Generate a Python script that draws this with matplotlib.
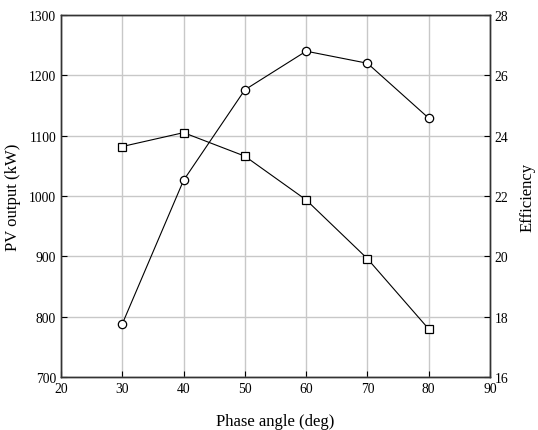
import matplotlib
matplotlib.use('Agg')
import matplotlib.pyplot as plt

plt.rcParams['font.family'] = ['Liberation Serif', 'DejaVu Serif']

# Data
phase_angle = [30, 40, 50, 60, 70, 80]
pv_output = [788, 1026, 1176, 1240, 1220, 1129]
efficiency = [23.64, 24.10, 23.32, 21.87, 19.92, 17.59]

x_ticks = [20, 30, 40, 50, 60, 70, 80, 90]
pv_ticks = [700, 800, 900, 1000, 1100, 1200, 1300]
eff_ticks = [16, 18, 20, 22, 24, 26, 28]

fig = plt.figure(figsize=(5.38, 4.31), dpi=100)
ax = fig.add_axes([0.1134, 0.1230, 0.7974, 0.8399])

ax.plot(phase_angle, pv_output, color='black', lw=0.8, marker='o', ms=6,
        mfc='white', mec='black', mew=0.9, zorder=3)
ax.set_xlim(20, 90)
ax.set_ylim(700, 1300)
ax.set_xticks(x_ticks)
ax.set_yticks(pv_ticks)
ax.grid(True, color='#c8c8c8', lw=1.0)
ax.set_axisbelow(True)
ax.tick_params(direction='in', length=4, labelsize=9.8, width=0.8)
ax.set_xlabel('Phase angle (deg)', fontsize=12, labelpad=13)
ax.set_ylabel('PV output (kW)', fontsize=12, labelpad=6)

ax2 = ax.twinx()
ax2.plot(phase_angle, efficiency, color='black', lw=0.8, marker='s', ms=6,
         mfc='white', mec='black', mew=0.9, zorder=3)
ax2.set_ylim(16, 28)
ax2.set_yticks(eff_ticks)
ax2.tick_params(direction='in', length=4, labelsize=9.8, width=0.8)
ax2.set_ylabel('Efficiency', fontsize=12, labelpad=8)

for a in (ax, ax2):
    for s in a.spines.values():
        s.set_linewidth(1.0)
        s.set_color('#333333')

fig.savefig('out.png', dpi=100)
